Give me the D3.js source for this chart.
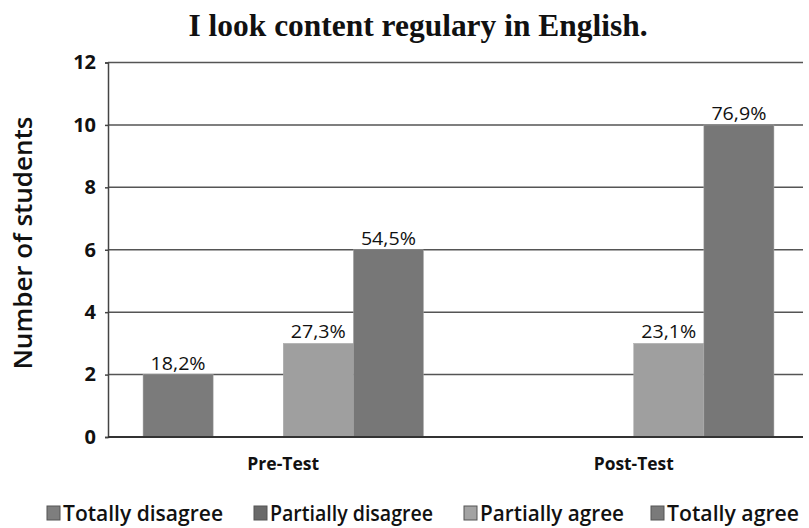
<!DOCTYPE html>
<html><head><meta charset="utf-8">
<script src="https://cdn.jsdelivr.net/npm/d3@7"></script>
<style>body{margin:0;background:#fff}svg{display:block}</style>
</head><body>
<svg id="c" width="809" height="528"></svg>
<script>
const categories = ["Pre-Test", "Post-Test"];
const seriesNames = ["Totally disagree", "Partially disagree", "Partially agree", "Totally agree"];
const totallyDisagree = [2, 0];
const partiallyDisagree = [0, 0];
const partiallyAgree = [3, 3];
const totallyAgree = [6, 10];
const labelsTotallyDisagree = ["18,2%", ""];
const labelsPartiallyDisagree = ["", ""];
const labelsPartiallyAgree = ["27,3%", "23,1%"];
const labelsTotallyAgree = ["54,5%", "76,9%"];
const yTicks = [0, 2, 4, 6, 8, 10, 12];
const colors = ["#7b7b7b", "#6c6c6c", "#9f9f9f", "#777777"];
const legendColors = ["#7e7e7e", "#6a6a6a", "#a3a3a3", "#7a7a7a"];

const allValues = [totallyDisagree, partiallyDisagree, partiallyAgree, totallyAgree];
const allLabels = [labelsTotallyDisagree, labelsPartiallyDisagree, labelsPartiallyAgree, labelsTotallyAgree];

const svg = d3.select("#c");
const mLeft = 108, mRight = 809, mTop = 62.5, mBottom = 437;
const gridRight = 803;
const sans = "'Open Sans', sans-serif";

const x0 = d3.scaleBand().domain(categories).range([mLeft, mRight]).paddingInner(0.2).paddingOuter(0.1);
const x1 = d3.scaleBand().domain(seriesNames).range([0, x0.bandwidth()]);
const y = d3.scaleLinear().domain([0, 12]).range([mBottom, mTop]);

// title
svg.append("text").attr("x", 418).attr("y", 36).attr("text-anchor", "middle")
  .attr("font-family", "'Liberation Serif', 'DejaVu Serif', serif").attr("font-weight", "bold")
  .attr("font-size", 31).attr("fill", "#111")
  .attr("textLength", 459).attr("lengthAdjust", "spacingAndGlyphs")
  .text("I look content regulary in English.");

// gridlines
svg.append("g").selectAll("line").data(yTicks.filter(t => t > 0)).join("line")
  .attr("x1", mLeft).attr("x2", gridRight).attr("y1", d => y(d)).attr("y2", d => y(d))
  .attr("stroke", "#555").attr("stroke-width", 1.5);

// y axis
const yAxis = svg.append("g").attr("transform", `translate(${mLeft},0)`)
  .call(d3.axisLeft(y).tickValues(yTicks).tickSize(3).tickPadding(9).tickFormat(d3.format("d")));
yAxis.select(".domain").attr("stroke", "#444").attr("stroke-width", 1.5);
yAxis.selectAll(".tick line").attr("stroke", "#444").attr("stroke-width", 1.5);
yAxis.selectAll("text").attr("font-family", sans).attr("font-weight", "bold")
  .attr("font-size", 20).attr("fill", "#111");

// bars
const groups = svg.append("g").selectAll("g").data(categories).join("g")
  .attr("transform", d => `translate(${x0(d)},0)`);
seriesNames.forEach((s, si) => {
  groups.each(function(cat, ci) {
    const v = allValues[si][ci];
    if (v > 0) {
      d3.select(this).append("rect")
        .attr("x", x1(s)).attr("y", y(v)).attr("width", x1.bandwidth()).attr("height", y(0) - y(v))
        .attr("fill", colors[si]).attr("stroke", "#aaa").attr("stroke-width", 0.5);
    }
    const lab = allLabels[si][ci];
    if (lab) {
      d3.select(this).append("text").attr("x", x1(s) + x1.bandwidth() / 2).attr("y", y(v) - 5)
        .attr("text-anchor", "middle").attr("font-family", sans)
        .attr("font-size", 19).attr("fill", "#111")
        .attr("textLength", 55).attr("lengthAdjust", "spacingAndGlyphs").text(lab);
    }
  });
});

// x axis
svg.append("line").attr("x1", mLeft).attr("x2", gridRight).attr("y1", mBottom).attr("y2", mBottom)
  .attr("stroke", "#333").attr("stroke-width", 2);
svg.append("g").selectAll("text").data(categories).join("text")
  .attr("x", d => x0(d) + x0.bandwidth() / 2).attr("y", 470).attr("text-anchor", "middle")
  .attr("font-family", sans).attr("font-weight", "bold")
  .attr("font-size", 18).attr("fill", "#111")
  .attr("textLength", (d, i) => i === 0 ? 72 : 80).attr("lengthAdjust", "spacingAndGlyphs").text(d => d);

// y label
svg.append("text").attr("transform", "translate(32,243) rotate(-90)").attr("text-anchor", "middle")
  .attr("font-family", sans).attr("font-weight", "600")
  .attr("font-size", 25).attr("fill", "#111")
  .attr("textLength", 253).attr("lengthAdjust", "spacingAndGlyphs").text("Number of students");

// legend
const legendX = [47, 254, 464, 651];
const legendTextW = [160, 163, 144, 132];
const lg = svg.append("g").selectAll("g").data(seriesNames).join("g")
  .attr("transform", (d, i) => `translate(${legendX[i]},506)`);
lg.append("rect").attr("width", 13).attr("height", 14).attr("fill", (d, i) => legendColors[i])
  .attr("stroke", "#555").attr("stroke-width", 1);
lg.append("text").attr("x", 16).attr("y", 15).attr("font-family", sans)
  .attr("font-weight", "600").attr("font-size", 22).attr("fill", "#111")
  .attr("textLength", (d, i) => legendTextW[i]).attr("lengthAdjust", "spacingAndGlyphs").text(d => d);
</script>
</body></html>
